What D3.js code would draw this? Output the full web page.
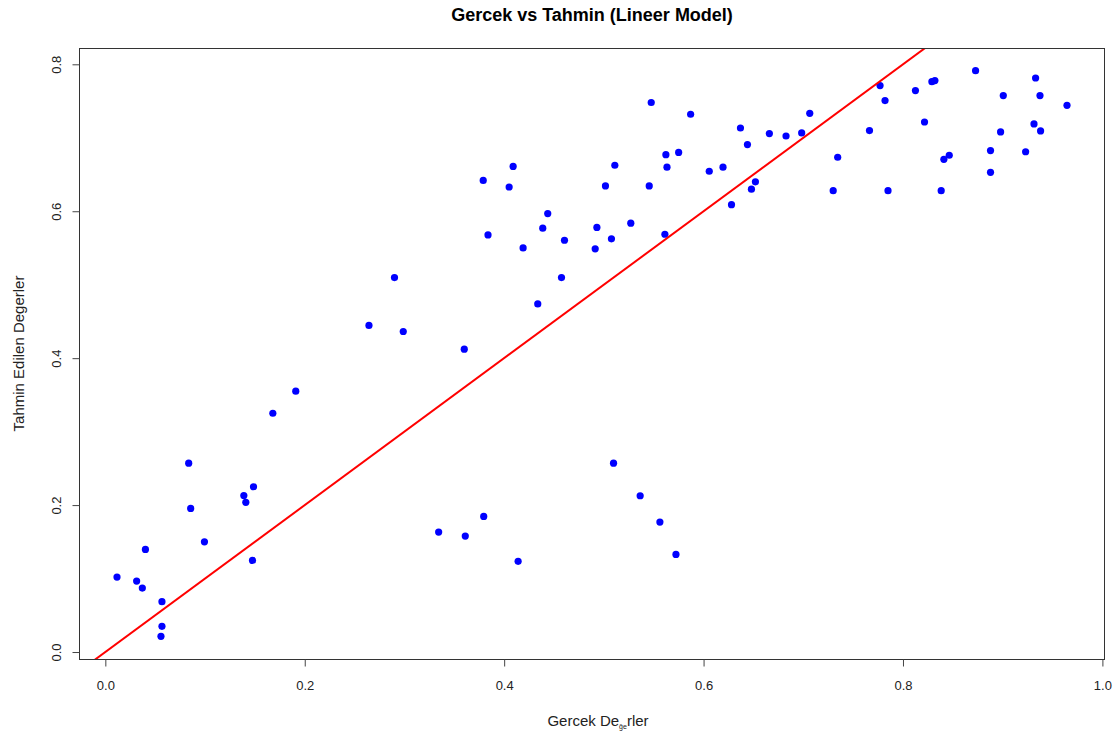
<!DOCTYPE html>
<html>
<head>
<meta charset="utf-8">
<script src="https://cdn.jsdelivr.net/npm/d3@7"></script>
<style>
  html, body { margin: 0; padding: 0; background: #fff; }
  svg { display: block; font-family: "Liberation Sans", Arial, sans-serif; }
</style>
</head>
<body>
<svg id="chart" width="1115" height="733"></svg>
<script>
// Actual (gercek) vs predicted (tahmin) values from the linear model
const actual = [
  0.0117, 0.0314, 0.0371, 0.0402, 0.0568, 0.0568, 0.0558, 0.0836, 0.0856, 0.0994,
  0.1389, 0.1409, 0.1486, 0.1476, 0.1680, 0.1910, 0.2644, 0.2900, 0.2988, 0.3600,
  0.3343, 0.3610, 0.3795, 0.4140,
  0.3790, 0.3838, 0.4050, 0.4090, 0.4190, 0.4337, 0.4387, 0.4437, 0.4575, 0.4605,
  0.4913, 0.4930, 0.5016, 0.5076, 0.5110, 0.5270, 0.5455, 0.5475, 0.5612, 0.5622,
  0.5633, 0.5750, 0.5870, 0.6057, 0.6195, 0.6280, 0.6370, 0.6440, 0.6480, 0.6520,
  0.6660, 0.6827, 0.6984, 0.7065,
  0.5097, 0.5364, 0.5562, 0.5723,
  0.7300, 0.7345, 0.7664, 0.7770, 0.7820, 0.7850, 0.8125, 0.8216, 0.8290, 0.8320,
  0.8383, 0.8410, 0.8464, 0.8728, 0.8878, 0.8878, 0.8979, 0.9006, 0.9230, 0.9314,
  0.9330, 0.9374, 0.9380, 0.9645
];
const predicted = [
  0.1020, 0.0966, 0.0871, 0.1397, 0.0685, 0.0350, 0.0213, 0.2571, 0.1955, 0.1500,
  0.2130, 0.2037, 0.2250, 0.1247, 0.3250, 0.3550, 0.4445, 0.5097, 0.4363, 0.4122,
  0.1633, 0.1578, 0.1846, 0.1234,
  0.6420, 0.5678, 0.6330, 0.6610, 0.5500, 0.4739, 0.5769, 0.5968, 0.5097, 0.5605,
  0.5488, 0.5780, 0.6345, 0.5624, 0.6626, 0.5837, 0.6345, 0.7480, 0.5687, 0.6770,
  0.6600, 0.6800, 0.7320, 0.6544, 0.6600, 0.6090, 0.7133, 0.6907, 0.6300, 0.6400,
  0.7057, 0.7024, 0.7066, 0.7333,
  0.2571, 0.2127, 0.1769, 0.1329,
  0.6280, 0.6735, 0.7098, 0.7710, 0.7506, 0.6280, 0.7642, 0.7215, 0.7764, 0.7778,
  0.6280, 0.6707, 0.6762, 0.7914, 0.6826, 0.6530, 0.7080, 0.7574, 0.6810, 0.7188,
  0.7814, 0.7574, 0.7093, 0.7442
];
const xTicks = [0.0, 0.2, 0.4, 0.6, 0.8, 1.0];
const yTicks = [0.0, 0.2, 0.4, 0.6, 0.8];
const title = "Gercek vs Tahmin (Lineer Model)";
const yTitle = "Tahmin Edilen Degerler";

const svg = d3.select("#chart");
const box = { left: 79, right: 1105, top: 48, bottom: 659 };

// Axis ranges padded 4% around the data, as in base graphics
function padded(v) {
  const lo = d3.min(v), hi = d3.max(v), r = hi - lo;
  return [lo - 0.04 * r, hi + 0.04 * r];
}
const x = d3.scaleLinear().domain(padded(actual)).range([box.left, box.right]);
const y = d3.scaleLinear().domain(padded(predicted)).range([box.bottom, box.top]);

const fmt = d3.format(".1f");

// Clip region for the reference line
svg.append("clipPath").attr("id", "plotClip")
  .append("rect")
  .attr("x", box.left).attr("y", box.top)
  .attr("width", box.right - box.left).attr("height", box.bottom - box.top);

// Points
svg.append("g")
  .selectAll("circle")
  .data(actual.map((a, i) => [a, predicted[i]]))
  .join("circle")
  .attr("cx", d => x(d[0]))
  .attr("cy", d => y(d[1]))
  .attr("r", 3.6)
  .attr("fill", "#0000ff");

// Reference line y = x
const xd = x.domain(), yd = y.domain();
const lo = Math.min(xd[0], yd[0]), hi = Math.max(xd[1], yd[1]);
svg.append("line")
  .attr("clip-path", "url(#plotClip)")
  .attr("x1", x(lo)).attr("y1", y(lo))
  .attr("x2", x(hi)).attr("y2", y(hi))
  .attr("stroke", "#ff0000")
  .attr("stroke-width", 2);

// Plot frame
svg.append("rect")
  .attr("x", box.left + 0.5).attr("y", box.top + 0.5)
  .attr("width", box.right - box.left - 1).attr("height", box.bottom - box.top)
  .attr("fill", "none")
  .attr("stroke", "#333")
  .attr("stroke-width", 1);

// X axis
const xAxis = d3.axisBottom(x).tickValues(xTicks).tickFormat(fmt).tickSize(7).tickPadding(14);
const gx = svg.append("g").attr("transform", `translate(0,${box.bottom + 0.5})`).call(xAxis);
gx.select(".domain").remove();
gx.selectAll(".tick line").attr("stroke", "#444");
gx.selectAll(".tick text")
  .attr("font-size", 13)
  .attr("fill", "#222")
  .attr("font-family", "Liberation Sans, Arial, sans-serif");

// Y axis, labels written parallel to the axis
const yAxis = d3.axisLeft(y).tickValues(yTicks).tickFormat(fmt).tickSize(7).tickPadding(0);
const gy = svg.append("g").attr("transform", `translate(${box.left + 0.5},0)`).call(yAxis);
gy.select(".domain").remove();
gy.selectAll(".tick line").attr("stroke", "#444");
gy.selectAll(".tick text")
  .attr("x", null).attr("dy", null)
  .attr("transform", "translate(-19,0) rotate(-90)")
  .attr("text-anchor", "middle")
  .attr("font-size", 13)
  .attr("fill", "#222")
  .attr("font-family", "Liberation Sans, Arial, sans-serif");

// Title
svg.append("text")
  .attr("x", (box.left + box.right) / 2)
  .attr("y", 21)
  .attr("text-anchor", "middle")
  .attr("font-weight", "bold")
  .attr("font-size", 18)
  .attr("fill", "#000")
  .text(title);

// X axis title (the g-breve glyph comes out tiny in this label)
const xt = svg.append("text")
  .attr("x", (box.left + box.right) / 2 + 6)
  .attr("y", 726)
  .attr("text-anchor", "middle")
  .attr("font-size", 15)
  .attr("fill", "#222");
xt.append("tspan").text("Gercek De");
xt.append("tspan").attr("font-size", 7).attr("dy", 3).text("ğe");
xt.append("tspan").attr("dy", -3).text("rler");

// Y axis title
svg.append("text")
  .attr("transform", `translate(24,${(box.top + box.bottom) / 2}) rotate(-90)`)
  .attr("text-anchor", "middle")
  .attr("font-size", 15)
  .attr("fill", "#222")
  .text(yTitle);
</script>
</body>
</html>
